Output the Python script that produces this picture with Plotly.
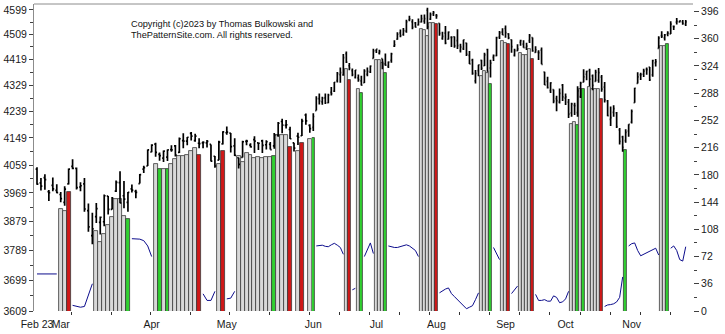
import math
import plotly.graph_objects as go

# ---------------- data (trading-day index 0 = Feb 21 2023) ----------------
opens = [4046,4001,4018,3973,3993,3977,
         3964,3939,3998,4055,4048,3988,3998,3913,3835,3894,3876,3878,3959,3917,3975,4002,3960,3939,3982,3974,3999,4046,4056,
         4102,4128,4094,4082,4085,4110,4122,4101,4140,4138,4164,4140,4131,4132,4132,4127,4088,4075,4129,
         4166,4165,4122,4083,4084,4137,4125,4143,4132,4139,4126,4127,4122,4157,4204,4191,4177,4132,4155,4156,4226,4191,
         4184,4241,4282,4271,4285,4268,4304,4308,4345,4366,4365,4440,4397,4380,4356,4354,4344,4338,4367,4375,4423,
         4452,4442,4422,4404,4395,4416,4467,4492,4515,4509,4521,4563,4555,4551,4544,4555,4558,4598,4565,4585,
         4578,4550,4495,4514,4492,4499,4501,4487,4451,4458,4478,4434,4417,4344,4380,4416,4397,4455,4389,4427,4433,4500,4518,
         4531,4511,4490,4434,4451,4481,4474,4462,4487,4498,4445,4445,4453,4375,4342,4310,4313,4282,4270,4329,
         4284,4270,4233,4259,4234,4289,4339,4367,4380,4361,4342,4346,4357,4322,4274,4211,4235,4233,4176,4152,4140,4172,
         4202,4268,4335,4365,4367,4384,4392,4365,4407,4459,4505,4497,4510,4511,4539,4554,4555,4555,4546]
highs = [4052,4017,4029,3978,4019,3997,
         3972,3990,4048,4078,4051,4003,4017,3935,3906,3937,3894,3964,3959,3956,4009,4039,4007,3972,3996,3979,4030,4057,4110,
         4128,4133,4100,4107,4110,4124,4125,4150,4164,4152,4169,4163,4148,4138,4142,4127,4089,4139,4171,
         4187,4165,4148,4083,4139,4143,4131,4154,4132,4143,4141,4135,4165,4202,4213,4209,4186,4133,4166,4213,4231,4195,
         4232,4290,4300,4289,4300,4299,4322,4340,4375,4391,4439,4448,4407,4387,4382,4366,4362,4385,4391,4398,4458,
         4456,4454,4422,4441,4412,4443,4488,4517,4527,4533,4563,4578,4565,4555,4568,4581,4582,4607,4590,4595,
         4584,4550,4519,4540,4520,4503,4502,4528,4476,4490,4479,4450,4422,4382,4401,4418,4443,4458,4418,4437,4501,4522,4532,
         4542,4514,4491,4458,4474,4490,4488,4479,4511,4498,4467,4452,4462,4376,4358,4339,4314,4292,4317,4333,
         4300,4281,4268,4268,4325,4341,4385,4379,4386,4366,4383,4389,4364,4340,4277,4255,4259,4236,4182,4156,4178,4195,
         4245,4320,4374,4372,4386,4391,4393,4418,4421,4503,4521,4511,4521,4557,4542,4569,4560,4562,4562]
lows = [3995,3977,3979,3943,3974,3968,
        3939,3928,3996,4045,3980,3974,3909,3847,3808,3874,3838,3864,3901,3916,3972,3936,3920,3909,3970,3952,3999,4033,4056,
        4101,4086,4073,4069,4072,4103,4087,4099,4114,4124,4140,4136,4114,4114,4117,4071,4050,4075,4127,
        4159,4100,4089,4048,4084,4124,4117,4099,4109,4099,4110,4110,4113,4153,4164,4180,4145,4104,4125,4155,4193,4166,
        4172,4241,4262,4261,4264,4266,4293,4305,4338,4337,4362,4407,4381,4360,4352,4341,4328,4336,4360,4371,4423,
        4442,4437,4385,4397,4389,4408,4464,4490,4499,4505,4515,4557,4528,4535,4542,4553,4548,4528,4562,4577,
        4567,4505,4490,4474,4491,4464,4461,4457,4444,4453,4432,4403,4365,4335,4360,4382,4396,4376,4356,4414,4431,4493,4507,
        4497,4492,4443,4430,4449,4468,4461,4453,4478,4447,4443,4417,4402,4329,4317,4302,4266,4239,4265,4274,
        4260,4216,4220,4226,4220,4284,4339,4346,4325,4311,4342,4337,4306,4269,4222,4189,4220,4182,4127,4103,4133,4153,
        4197,4268,4335,4347,4357,4365,4343,4358,4394,4459,4496,4487,4503,4511,4525,4546,4553,4545,4540]
closes = [3997,3991,4012,3970,3982,3970,
          3951,3981,4046,4048,3986,3992,3918,3862,3856,3919,3892,3960,3917,3952,4003,3937,3949,3971,3978,3971,4028,4051,4109,
          4125,4101,4090,4105,4109,4109,4092,4146,4138,4151,4155,4155,4130,4134,4137,4072,4056,4135,4169,
          4168,4120,4091,4061,4136,4138,4119,4138,4131,4124,4136,4110,4159,4198,4192,4193,4146,4115,4151,4205,4206,4180,
          4221,4282,4274,4284,4268,4294,4299,4339,4369,4373,4426,4410,4389,4366,4382,4348,4329,4378,4377,4396,4450,
          4456,4447,4412,4399,4410,4439,4472,4510,4505,4523,4555,4566,4535,4536,4555,4567,4567,4537,4582,4589,
          4577,4513,4502,4478,4518,4499,4468,4469,4464,4490,4438,4404,4370,4370,4400,4388,4436,4376,4406,4433,4498,4515,4508,
          4516,4497,4465,4451,4457,4487,4462,4467,4505,4450,4454,4444,4402,4330,4320,4337,4274,4275,4300,4288,
          4288,4229,4264,4258,4309,4336,4358,4377,4350,4328,4374,4373,4315,4278,4224,4217,4248,4187,4137,4117,4167,4194,
          4238,4318,4358,4366,4378,4383,4347,4415,4412,4496,4503,4508,4514,4547,4538,4557,4559,4550,4555]

# highlighted days (index, top price, kind n=gray r=red g=green)
sig_idx = [6,7,8, 15,16,17,18,19,20,21,22,23,
           30,31,32,33,34,35,36,37,38,39,40,41, 46,47,
           51,52,53,54,55,56,57,58,59,60,61,62,63,64, 66,67, 69,70,
           81,82, 85,86, 91,92,93,94, 106,107,108,109,110,111,
           126,127,128,129, 133,134,135, 139,140,141,142,143,
           156,157,158,159,160, 162,163,164,165,166, 174, 186,187,188]
sig_top = [3918,3911,3972, 3849,3815,3841,3869,3892,3949,3949,3895,3887,
           4064,4046,4046,4046,4064,4080,4089,4090,4091,4105,4116,4091, 4064,4105,
           4090,4070,4100,4091,4081,4086,4081,4086,4086,4089,4157,4157,4157,4119, 4106,4133, 4144,4149,
           4384,4347, 4317,4303, 4419,4419,4407,4373, 4529,4526,4505,4551,4551,4547,
           4361,4378,4370,4332, 4484,4480,4473, 4443,4437,4437,4455,4422,
           4196,4202,4193,4315,4317, 4321,4317,4315,4315,4281, 4110, 4467,4467,4476]
sig_kind = ['n','n','r', 'n','n','n','n','n','n','n','n','g',
            'n','g','n','g','n','n','n','n','n','n','n','r', 'n','r',
            'n','n','n','n','n','n','n','n','n','g','n','n','n','r', 'n','r', 'n','g',
            'n','r', 'n','g', 'n','n','n','g', 'n','n','n','n','n','r',
            'n','n','n','g', 'n','n','r', 'n','n','n','n','r',
            'n','n','g','n','g', 'n','n','n','n','r', 'g', 'n','n','g']

# blue indicator (right axis), visible days only
line_idx = [0,1,2,3,4,5, 9,10,11,12,13,14, 24,25,26,27,28,29, 42,43,44,45, 48,49,50,
            71,72,73,74,75,76,77,78,79,80, 83,84, 87,88,89,90,
            95,96,97,98,99,100,101,102,103,104,105,
            112,113,114,115,116,117,118,119,120,121,122,123,124,125,
            130,131,132, 136,137,138,
            144,145,146,147,148,149,150,151,152,153,154,155,
            167,168,169,170,171,172,173,
            175,176,177,178,179,180,181,182,183,184,185,
            189,190,191,192,193,194]
line_val = [49,49,49,49,49,49, 7.5,6.5,5,6,20,36, 95.6,95.6,95,93,86,72, 22.7,14,14,26, 16,17,26,
            86,86.5,87,85.5,85,87.5,89.5,87,84,75, 28,30, 72,82,90,76,
            86,84.5,84,84,85,86,87.5,86,83,80,72,
            24,27,29,30.5,23,19,15,11,6,3,5,7,15,24,
            84,77,68, 23,28,33,
            22,14,14,15,13,13,20,18,11,12,16,26,
            6,8,8.5,9.5,12,18,45,
            86,89,90,80,73,75,77.5,79,81,83,74,
            83,86,80,68,66,85]

left_ticks = [3609,3699,3789,3879,3969,4059,4149,4239,4329,4419,4509,4599]
right_ticks = [0,36,72,108,144,180,216,252,288,324,360,396]
month_idx_a = [0,6,29,48]
month_lbl_a = ['Feb 23','Mar','Apr','May']
month_idx_b = [70,91,111,134,154,176]
month_lbl_b = ['Jun','Jul','Aug','Sep','Oct','Nov']

# ---------------- figure ----------------
BREAK = 69.5
KIND_COLOR = {'n': '#d9d9d9', 'r': '#d01818', 'g': '#30d030'}
BASE = 3560

fig = go.Figure()

parts = [('x', lambda i: i < BREAK), ('x2', lambda i: i >= BREAK)]

for xa, inside in parts:
    xs, ys = [], []
    prev = None
    for i, v in zip(line_idx, line_val):
        if not inside(i):
            continue
        if prev is not None and i != prev + 1:
            xs.append(None); ys.append(None)
        xs.append(i); ys.append(v)
        prev = i
    fig.add_trace(go.Scatter(x=xs, y=ys, mode='lines', xaxis=xa, yaxis='y2',
                             line=dict(color='#0c0c8c', width=1), hoverinfo='skip',
                             connectgaps=False))

for xa, inside in parts:
    bx = [i for i in sig_idx if inside(i)]
    bt = [t for i, t in zip(sig_idx, sig_top) if inside(i)]
    bc = [KIND_COLOR[k] for i, k in zip(sig_idx, sig_kind) if inside(i)]
    fig.add_trace(go.Bar(x=bx, y=[t - BASE for t in bt], base=BASE, width=1,
                         xaxis=xa, yaxis='y',
                         marker=dict(color=bc, line=dict(color='#3a3a3a', width=0.8)),
                         hoverinfo='skip'))

for xa, inside in parts:
    ids = [i for i in range(len(opens)) if inside(i)]
    fig.add_trace(go.Ohlc(x=ids,
                          open=[opens[i] for i in ids], high=[highs[i] for i in ids],
                          low=[lows[i] for i in ids], close=[closes[i] for i in ids],
                          xaxis=xa, yaxis='y', tickwidth=0.35,
                          increasing=dict(line=dict(color='black', width=1.7)),
                          decreasing=dict(line=dict(color='black', width=1.7)),
                          hoverinfo='skip'))

FONT = 'Liberation Sans, Arial, sans-serif'
tickfont = dict(family=FONT, size=10.5, color='#1a1a1a')

PL, PR = 33, 693
px_a = 3.96
px_b = 3.008
brk_px = 36 + px_a * BREAK
d1 = (brk_px - PL) / (PR - PL)
ra0 = BREAK - (brk_px - PL) / px_a
rb1 = BREAK + (PR - brk_px) / px_b

log_lo = math.log10(3609)
log_hi = log_lo + 310 * 0.0007975 / math.log(10)

minor_a = [8.8 + 10 * k for k in range(7)]
minor_b = [78.8 + 10 * k for k in range(12)]

common_x = dict(showgrid=False, zeroline=False, showline=False, tickangle=0,
                ticks='outside', ticklen=3, tickcolor='rgba(0,0,0,0)', tickfont=tickfont,
                rangeslider=dict(visible=False), fixedrange=True)

fig.update_layout(
    width=725, height=334,
    margin=dict(l=PL, r=725 - PR, t=4, b=20),
    paper_bgcolor='white', plot_bgcolor='white',
    showlegend=False, bargap=0, barmode='overlay',
    xaxis=dict(domain=[0, d1], range=[ra0, BREAK], anchor='y',
               tickvals=month_idx_a, ticktext=month_lbl_a,
               minor=dict(tickvals=minor_a, ticks='outside', ticklen=3, tickcolor='#333333'),
               **common_x),
    xaxis2=dict(domain=[d1, 1], range=[BREAK, rb1], anchor='y',
                tickvals=month_idx_b, ticktext=month_lbl_b,
                minor=dict(tickvals=minor_b, ticks='outside', ticklen=3, tickcolor='#333333'),
                **common_x),
    yaxis=dict(type='log', range=[log_lo, log_hi], anchor='x', side='left',
               tickvals=left_ticks, ticktext=[str(v) for v in left_ticks],
               ticks='outside', ticklen=4, tickcolor='#404040', tickfont=tickfont,
               minor=dict(tickvals=[v + 45 for v in left_ticks[:-1]], ticks='outside',
                          ticklen=3, tickcolor='#404040'),
               showline=True, linecolor='#8c8c8c', linewidth=1,
               showgrid=False, zeroline=False, fixedrange=True),
    yaxis2=dict(range=[0, 405.9], overlaying='y', side='right', anchor='free', position=1,
                tickvals=right_ticks, ticktext=[str(v) for v in right_ticks],
                ticks='outside', ticklen=5, tickcolor='#404040', tickfont=tickfont,
                minor=dict(tickvals=[v + 18 for v in right_ticks[:-1]], ticks='outside',
                           ticklen=3, tickcolor='#404040'),
                showline=False, showgrid=False, zeroline=False, fixedrange=True),
    shapes=[dict(type='line', xref='paper', yref='paper', x0=0, x1=1, y0=1, y1=1,
                 line=dict(color='#8c8c8c', width=1))],
    annotations=[
        dict(text='Copyright (c)2023 by Thomas Bulkowski and', xref='paper', yref='paper',
             x=(128 - PL) / (PR - PL), y=(314 - 24.5) / 310, xanchor='left', yanchor='middle',
             showarrow=False, font=dict(family=FONT, size=9.2, color='#111111')),
        dict(text='ThePatternSite.com. All rights reserved.', xref='paper', yref='paper',
             x=(128 - PL) / (PR - PL), y=(314 - 35.5) / 310, xanchor='left', yanchor='middle',
             showarrow=False, font=dict(family=FONT, size=9.2, color='#111111')),
    ],
)

fig.write_html('out.html')
